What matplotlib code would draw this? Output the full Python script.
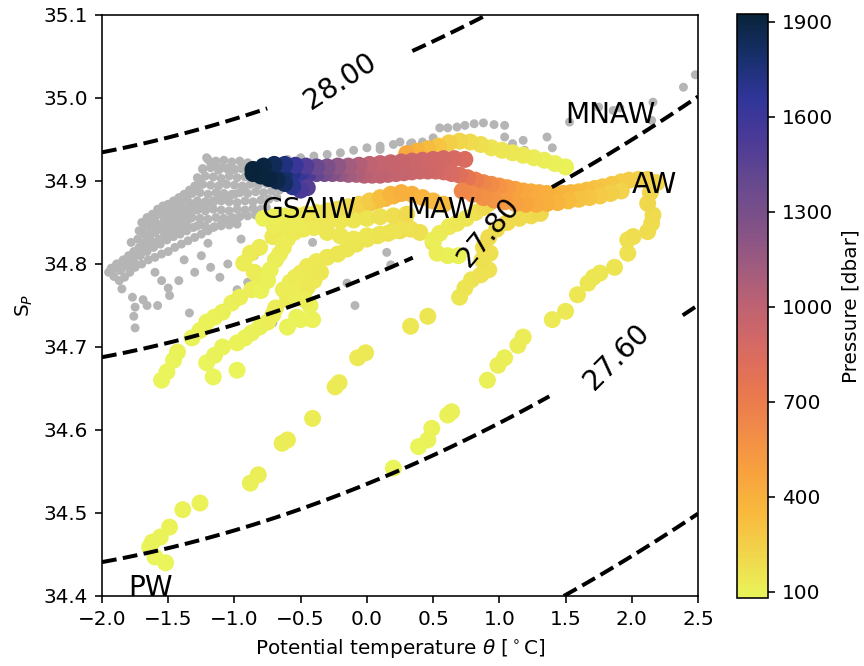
import numpy as np
import matplotlib
matplotlib.use("Agg")
import matplotlib.pyplot as plt
from matplotlib.colors import LinearSegmentedColormap

# --- background stations (grey) ------------------------------------------
grey_t1 = [-1.95, -1.91, -1.87, -1.83, -1.79, -1.75, -1.70, -1.65, -1.60, -1.55, -1.50,
           -1.45, -1.40, -1.35, -1.30, -1.25, -1.20, -1.15, -1.10, -1.05, -1.00]
grey_s1 = [34.790, 34.785, 34.780, 34.784, 34.790, 34.796, 34.800, 34.805, 34.808, 34.812, 34.815,
           34.820, 34.824, 34.828, 34.832, 34.836, 34.840, 34.845, 34.848, 34.852, 34.855]
grey_t2 = [-1.88, -1.84, -1.80, -1.76, -1.72, -1.68, -1.64, -1.60, -1.56, -1.52, -1.48, -1.44, -1.40,
           -1.36, -1.32, -1.28, -1.24, -1.20, -1.16, -1.12, -1.08, -1.04, -1.00, -0.96, -0.92]
grey_s2 = [34.800, 34.805, 34.810, 34.815, 34.820, 34.826, 34.832, 34.838, 34.842, 34.846, 34.850, 34.853, 34.857,
           34.860, 34.864, 34.867, 34.870, 34.873, 34.876, 34.878, 34.880, 34.882, 34.884, 34.886, 34.888]
grey_t3 = [-1.72, -1.68, -1.64, -1.60, -1.56, -1.52, -1.48, -1.44, -1.40, -1.36, -1.32,
           -1.29, -1.27, -1.24, -1.21, -1.18, -1.14, -1.10, -1.05, -1.00, -0.95, -0.90]
grey_s3 = [34.840, 34.846, 34.850, 34.855, 34.860, 34.862, 34.866, 34.870, 34.874, 34.880, 34.886,
           34.893, 34.902, 34.915, 34.928, 34.922, 34.918, 34.916, 34.915, 34.914, 34.915, 34.917]
grey_t4 = [-1.93, -1.89, -1.85, -1.81, -1.77, -1.73, -1.69, -1.65, -1.61, -1.57, -1.53, -1.49, -1.45,
           -1.41, -1.37, -1.33]
grey_s4 = [34.795, 34.800, 34.796, 34.802, 34.808, 34.812, 34.818, 34.822, 34.826, 34.830, 34.834, 34.838,
           34.841, 34.846, 34.850, 34.855]
grey_t5 = [-1.20, -1.14, -1.08, -1.02, -0.96, -0.90,
           -1.24, -1.18, -1.12, -1.06, -1.00, -0.94, -0.88, -0.82]
grey_s5 = [34.926, 34.924, 34.925, 34.923, 34.924, 34.922,
           34.914, 34.916, 34.913, 34.915, 34.914, 34.916, 34.915, 34.917]
grey_t6 = [-1.28, -1.22, -1.16, -1.10, -1.04, -0.98, -0.92, -0.86, -0.80,
           -1.30, -1.24, -1.18, -1.12, -1.06, -1.00, -0.94, -0.88, -0.82, -0.76, -0.70]
grey_s6 = [34.904, 34.906, 34.905, 34.903, 34.906, 34.904, 34.905, 34.903, 34.904,
           34.894, 34.896, 34.895, 34.894, 34.896, 34.895, 34.894, 34.896, 34.895, 34.897, 34.899]
grey_t7 = [-1.32, -1.26, -1.20, -1.14, -1.08, -1.02, -0.96, -0.90, -0.84, -0.78, -0.72, -0.66,
           -1.34, -1.28, -1.22, -1.16, -1.10, -1.04, -0.98, -0.92, -0.86, -0.80, -0.74, -0.68]
grey_s7 = [34.885, 34.886, 34.884, 34.886, 34.885, 34.884, 34.886, 34.885, 34.887, 34.886, 34.888, 34.889,
           34.874, 34.876, 34.875, 34.874, 34.876, 34.875, 34.874, 34.876, 34.875, 34.877, 34.878, 34.880]
grey_t8 = [-1.40, -1.34, -1.28, -1.22, -1.16, -1.10, -1.04, -0.98, -0.92, -0.86, -0.80, -0.76,
           -1.50, -1.44, -1.38, -1.32, -1.26, -1.20, -1.14, -1.08, -1.02, -0.96, -0.90, -0.84,
           -1.58, -1.52, -1.46, -1.40, -1.34, -1.28, -1.22, -1.16, -1.10, -1.04, -0.98]
grey_s8 = [34.864, 34.866, 34.865, 34.864, 34.866, 34.865, 34.864, 34.866, 34.865, 34.867, 34.866, 34.868,
           34.853, 34.855, 34.854, 34.856, 34.855, 34.854, 34.856, 34.855, 34.856, 34.857, 34.858, 34.859,
           34.842, 34.844, 34.843, 34.845, 34.844, 34.846, 34.845, 34.844, 34.846, 34.847, 34.848]
grey_t9 = [-0.70, -0.60, -0.50, -0.40, -0.30, -0.20, -0.10, 0.00, 0.10, 0.20, 0.25, 0.33, 0.42, 0.50,
           0.55, 0.61, 0.68, 0.74, 0.81, 0.88, 0.96, 1.04, 0.10, 0.34]
grey_s9 = [34.925, 34.926, 34.928, 34.930, 34.932, 34.934, 34.937, 34.940, 34.942, 34.944, 34.947, 34.945, 34.947, 34.952,
           34.964, 34.964, 34.965, 34.967, 34.969, 34.970, 34.968, 34.967, 34.938, 34.946]
grey_t10 = [1.04, 1.10, 1.18, 1.19, 1.36, 1.40, 1.53, 1.75, 1.86, 1.91, 2.15, 2.16, 2.39, 2.48]
grey_s10 = [34.953, 34.945, 34.949, 34.937, 34.953, 34.940, 34.971, 34.989, 34.985, 34.988, 34.973, 34.995, 35.013, 35.028]
grey_t11 = [-1.77, -1.75, -1.76, -1.75, -1.69, -1.66, -1.58, -1.50, -1.49, -1.34, -1.42, -1.30, -1.18, -1.11,
            -1.05, -0.98, -0.90, -0.71, -0.85, -0.41, -0.15, -0.09, 0.15, 0.18, -1.85, -1.90, -1.60, -1.55,
            -1.38, -1.25, -1.20, -0.95]
grey_s11 = [34.760, 34.748, 34.737, 34.723, 34.757, 34.750, 34.750, 34.771, 34.762, 34.741, 34.780, 34.790, 34.796, 34.784,
            34.800, 34.769, 34.778, 34.729, 34.810, 34.826, 34.777, 34.750, 34.814, 34.799, 34.770, 34.795, 34.790, 34.780,
            34.805, 34.810, 34.825, 34.830]
grey_t12 = [-1.86, -1.81, -1.76, -1.71, -1.66, -1.61, -1.56, -1.51, -1.46, -1.41, -1.36, -1.31, -1.26,
            -1.78, -1.73, -1.68, -1.63, -1.58, -1.53, -1.48, -1.43, -1.38, -1.33, -1.28,
            -1.70, -1.66, -1.62, -1.58, -1.54, -1.50, -1.46, -1.42, -1.38, -1.34]
grey_s12 = [34.792, 34.797, 34.803, 34.810, 34.815, 34.820, 34.824, 34.829, 34.833, 34.836, 34.840, 34.844, 34.848,
            34.826, 34.830, 34.836, 34.842, 34.848, 34.852, 34.858, 34.862, 34.866, 34.870, 34.875,
            34.850, 34.856, 34.860, 34.866, 34.870, 34.872, 34.876, 34.880, 34.884, 34.889]

# --- section profiles: potential temperature, salinity, pressure ----------
t_a = [0.20, 0.39, 0.46, 0.49, 0.61, 0.64, 0.91, 0.99, 1.04, 1.14, 1.18, 1.40, 1.50, 1.59, 1.67, 1.71,
       1.76, 1.87, 1.97, 1.97, 2.01, 2.12, 2.15, 2.16, 2.12, 2.14, 2.19,
       2.12, 2.05, 1.98, 1.92, 1.85, 1.78, 1.72, 1.66, 1.60, 1.54, 1.48, 1.42, 1.36, 1.30, 1.24, 1.18,
       1.12, 1.06, 1.00, 0.94, 0.88, 0.82, 0.76, 0.70, 0.64, 0.58, 0.52, 0.46, 0.40, 0.34, 0.28, 0.22,
       0.16, 0.10, 0.04, -0.02, -0.08, -0.14, -0.20, -0.26, -0.32, -0.38, -0.44, -0.50, -0.56, -0.62,
       -0.68, -0.74, -0.80]
s_a = [34.554, 34.580, 34.588, 34.602, 34.618, 34.622, 34.660, 34.678, 34.687, 34.702, 34.712, 34.733,
       34.743, 34.763, 34.777, 34.784, 34.789, 34.796, 34.813, 34.829, 34.833, 34.839, 34.849, 34.859,
       34.873, 34.886, 34.898,
       34.902, 34.902, 34.901, 34.899, 34.896, 34.893, 34.891, 34.889, 34.887, 34.886, 34.885, 34.884,
       34.885, 34.886, 34.887, 34.888, 34.890, 34.892, 34.894, 34.896, 34.898, 34.901, 34.904, 34.907,
       34.909, 34.911, 34.912, 34.912, 34.912, 34.911, 34.910, 34.909, 34.908, 34.907, 34.907, 34.907,
       34.908, 34.908, 34.909, 34.909, 34.909, 34.909, 34.909, 34.909, 34.910, 34.910, 34.911, 34.911,
       34.912]
p_a = [81, 88, 92, 96, 100, 103, 108, 112, 115, 120, 124, 130, 135, 140, 145, 148, 152, 158, 165, 172,
       176, 182, 188, 195, 205, 215, 225,
       235, 245, 255, 265, 280, 295, 310, 325, 340, 355, 370, 385, 400, 415, 430, 450, 480, 520, 560,
       600, 650, 700, 760, 820, 860, 880, 900, 915, 930, 945, 960, 970, 980, 990, 1000, 1030, 1070,
       1120, 1180, 1250, 1330, 1420, 1520, 1620, 1710, 1790, 1850, 1890, 1925]

t_b = [-1.52, -1.60, -1.64, -1.62, -1.56, -1.49, -1.39, -1.26, -0.88, -0.82, -0.64, -0.60, -0.41,
       -0.24, -0.21, -0.07, -0.01, 0.33, 0.46, 0.70, 0.74, 0.79, 0.86, 0.92, 0.87, 0.93, 0.88, 0.92,
       0.98, 1.06, 1.15, 1.24, 1.31, 1.30, 1.27]
s_b = [34.440, 34.447, 34.459, 34.465, 34.471, 34.483, 34.504, 34.512, 34.536, 34.546, 34.584, 34.588,
       34.614, 34.652, 34.657, 34.687, 34.693, 34.725, 34.737, 34.760, 34.771, 34.781, 34.787, 34.793,
       34.805, 34.813, 34.820, 34.832, 34.842, 34.850, 34.855, 34.858, 34.861, 34.868, 34.874]
p_b = [81, 84, 87, 90, 93, 96, 99, 102, 106, 110, 114, 118, 122, 126, 130, 134, 138, 142, 146, 150,
       154, 158, 162, 166, 170, 174, 178, 182, 186, 190, 195, 200, 205, 210, 215]

t_c = [-0.45, -0.50, -0.56, -0.62, -0.68, -0.74, -0.80, -0.86]
s_c = [34.892, 34.889, 34.893, 34.897, 34.900, 34.903, 34.906, 34.909]
p_c = [1480, 1540, 1700, 1820, 1880, 1905, 1915, 1925]

t_d = [1.50, 1.42, 1.34, 1.26, 1.18, 1.10, 1.02, 0.94, 0.86, 0.78, 0.70, 0.62, 0.54, 0.46, 0.38, 0.30]
s_d = [34.917, 34.921, 34.925, 34.928, 34.931, 34.934, 34.937, 34.940, 34.944, 34.947, 34.948, 34.946,
       34.942, 34.939, 34.936, 34.933]
p_d = [100, 108, 116, 124, 132, 140, 150, 160, 175, 195, 220, 250, 290, 340, 390, 440]

t_m = [0.74, 0.66, 0.58, 0.50, 0.42, 0.34, 0.26, 0.18, 0.10, 0.02, -0.06, -0.14, -0.22, -0.30, -0.38,
       -0.46, -0.54, -0.62, -0.70, -0.78, -0.86]
s_m = [34.926, 34.927, 34.927, 34.926, 34.925, 34.924, 34.923, 34.922, 34.921, 34.920, 34.919, 34.918,
       34.918, 34.917, 34.917, 34.918, 34.919, 34.920, 34.920, 34.918, 34.914]
p_m = [850, 870, 890, 905, 920, 935, 950, 965, 980, 1000, 1060, 1120, 1200, 1290, 1390, 1500, 1620,
       1740, 1840, 1900, 1925]

t_e = [-1.55, -1.51, -1.46, -1.43, -1.32, -1.26, -1.21, -1.15, -1.09, -1.02, -0.96, -0.87, -0.81, -0.85,
       -0.93, -0.88, -0.81, -0.71, -0.64, -0.58, -0.52, -0.46, -0.40, -0.34, -0.28, -0.22, -0.16, -0.10,
       -0.04, 0.02, 0.08, 0.14, 0.20, 0.26]
s_e = [34.660, 34.670, 34.684, 34.694, 34.711, 34.720, 34.730, 34.736, 34.742, 34.753, 34.760, 34.769,
       34.778, 34.790, 34.801, 34.813, 34.820, 34.833, 34.842, 34.848, 34.852, 34.856, 34.858, 34.860,
       34.862, 34.864, 34.866, 34.868, 34.870, 34.873, 34.876, 34.879, 34.882, 34.885]
p_e = [81, 84, 87, 90, 93, 96, 99, 102, 105, 108, 111, 114, 117, 120, 123, 126, 130, 135, 140, 146, 152,
       160, 170, 182, 196, 212, 230, 250, 275, 300, 330, 360, 390, 420]

t_f = [-0.98, -1.16, -1.21, -1.15, -1.09, -0.98, -0.92, -0.87, -0.81, -0.75, -0.71, -0.69, -0.60, -0.53,
       -0.45, -0.40, -0.35]
s_f = [34.672, 34.664, 34.681, 34.690, 34.700, 34.705, 34.711, 34.717, 34.724, 34.730, 34.739, 34.747,
       34.757, 34.765, 34.772, 34.780, 34.790]
p_f = [85, 81, 85, 89, 93, 97, 101, 105, 109, 113, 117, 121, 125, 129, 133, 137, 141]

t_g = [-0.60, -0.53, -0.50, -0.41, -0.43, -0.47, -0.55, -0.63, -0.58, -0.54, -0.50, -0.45, -0.38, -0.30,
       -0.22, -0.15, -0.08, 0.00, 0.08, 0.16, 0.25, 0.33]
s_g = [34.724, 34.736, 34.733, 34.733, 34.750, 34.757, 34.762, 34.769, 34.778, 34.784, 34.789, 34.797,
       34.803, 34.808, 34.812, 34.818, 34.824, 34.830, 34.834, 34.837, 34.840, 34.842]
p_g = [90, 94, 98, 102, 106, 110, 114, 118, 122, 126, 130, 134, 138, 142, 146, 150, 155, 160, 165, 170,
       175, 180]

t_h = [-0.78, -0.70, -0.62, -0.54, -0.46, -0.38, -0.30, -0.22, -0.14, -0.06, 0.02, 0.10, 0.18, 0.26,
       0.34, 0.42, 0.50, 0.58]
s_h = [34.855, 34.857, 34.858, 34.859, 34.860, 34.862, 34.864, 34.866, 34.869, 34.872, 34.876, 34.880,
       34.884, 34.886, 34.884, 34.880, 34.876, 34.872]
p_h = [100, 110, 120, 130, 140, 150, 165, 180, 200, 230, 270, 320, 370, 410, 400, 380, 360, 340]

t_i = [0.69, 0.61, 0.53, 0.50, 0.55, 0.62, 0.68, 0.75, 0.82, 0.88, 0.92]
s_i = [34.810, 34.810, 34.813, 34.829, 34.837, 34.845, 34.849, 34.855, 34.862, 34.868, 34.873]
p_i = [100, 105, 110, 115, 120, 130, 140, 150, 170, 190, 210]

t_j = [-0.80, -0.75, -0.73, -0.69, -0.66, -0.63, -0.60, -0.55, -0.48, -0.40, -0.30, -0.20, -0.10, 0.00,
       0.10, 0.20, 0.30, 0.40, 0.50]
s_j = [34.768, 34.780, 34.793, 34.805, 34.812, 34.820, 34.830, 34.838, 34.842, 34.844, 34.838, 34.834,
       34.830, 34.834, 34.836, 34.840, 34.846, 34.838, 34.826]
p_j = [100, 104, 108, 112, 116, 120, 124, 128, 132, 136, 140, 144, 148, 152, 156, 160, 164, 168, 172]

t_k = [1.92, 1.84, 1.76, 1.68, 1.60, 1.52, 1.44, 1.36, 1.28, 1.20, 1.12, 1.04, 0.96, 0.88, 0.80, 0.72]
s_k = [34.888, 34.885, 34.882, 34.880, 34.878, 34.876, 34.874, 34.873, 34.872, 34.872, 34.873, 34.875,
       34.877, 34.880, 34.884, 34.888]
p_k = [230, 250, 270, 290, 310, 340, 370, 400, 430, 460, 490, 520, 550, 580, 610, 640]

t_n = [-0.70, -0.60, -0.50, -0.40, -0.30, -0.20, -0.10, 0.00, 0.10, 0.20, 0.30]
s_n = [34.846, 34.848, 34.848, 34.850, 34.851, 34.852, 34.853, 34.855, 34.857, 34.858, 34.860]
p_n = [120, 125, 130, 135, 140, 145, 150, 160, 170, 180, 190]

water_masses = ["GSAIW", "MAW", "MNAW", "AW", "PW"]
wm_t = [-0.8, 0.3, 1.5, 2.0, -1.8]
wm_s = [34.855, 34.855, 34.97, 34.885, 34.40]

sigma_levels = [27.4, 27.6, 27.8, 28.0]
label_spots = [(1.89, 34.687), (0.91, 34.838), (-0.2, 35.02)]
label_angles = {"27.60": 45, "27.80": 50, "28.00": 33}
pressure_ticks = [100, 400, 700, 1000, 1300, 1600, 1900]


def sigma0(sa, ct):
    # surface density anomaly (EOS-80 at p=0, salinity rescaled)
    s = sa * 35.0 / 35.16504
    t = ct
    rho_w = (999.842594 + 6.793952e-2 * t - 9.095290e-3 * t**2 + 1.001685e-4 * t**3
             - 1.120083e-6 * t**4 + 6.536332e-9 * t**5)
    a = 8.24493e-1 - 4.0899e-3 * t + 7.6438e-5 * t**2 - 8.2467e-7 * t**3 + 5.3875e-9 * t**4
    b = -5.72466e-3 + 1.0227e-4 * t - 1.6546e-6 * t**2
    c = 4.8314e-4
    return rho_w + a * s + b * s**1.5 + c * s**2 - 1000.0


thermal_r = LinearSegmentedColormap.from_list("thermal_r", [
    "#e9f55a", "#f1d64c", "#f8ba3d", "#f8a23e", "#f18b48", "#e8764f", "#d76a63", "#be6272",
    "#9e5b7f", "#7f5188", "#66488f", "#4b3a97", "#30359a", "#17306b", "#08233a"])

grey_t = (grey_t1 + grey_t2 + grey_t3 + grey_t4 + grey_t5 + grey_t6 + grey_t7 + grey_t8
          + grey_t9 + grey_t10 + grey_t11 + grey_t12)
grey_s = (grey_s1 + grey_s2 + grey_s3 + grey_s4 + grey_s5 + grey_s6 + grey_s7 + grey_s8
          + grey_s9 + grey_s10 + grey_s11 + grey_s12)

temp = t_e + t_f + t_g + t_j + t_n + t_h + t_i + t_b + t_d + t_a + t_k + t_m + t_c
sal = s_e + s_f + s_g + s_j + s_n + s_h + s_i + s_b + s_d + s_a + s_k + s_m + s_c
pres = p_e + p_f + p_g + p_j + p_n + p_h + p_i + p_b + p_d + p_a + p_k + p_m + p_c

fig = plt.figure(figsize=(6.0, 4.625), dpi=144)
ax = fig.add_axes([102 / 864, 70 / 666, 596 / 864, 581 / 666])
cax = fig.add_axes([737 / 864, 68 / 666, 31 / 864, 584 / 666])

ax.set_xlim(-2.0, 2.5)
ax.set_ylim(34.4, 35.1)

tt, ss = np.meshgrid(np.linspace(-2.0, 2.5, 200), np.linspace(34.4, 35.1, 200))
cs = ax.contour(tt, ss, sigma0(ss, tt), levels=sigma_levels, colors="k",
                linestyles="--", linewidths=2)
labels = ax.clabel(cs, fmt="%.2f", fontsize=14, inline=True, inline_spacing=38,
                   manual=label_spots)
for lab in labels:
    lab.set_rotation(label_angles.get(lab.get_text(), 0))
    if lab.get_text() == "27.80":
        lab.set_position((0.92, 34.838))

ax.scatter(grey_t, grey_s, s=20, color="0.71", edgecolors="none")
sc = ax.scatter(temp, sal, c=pres, s=72, cmap=thermal_r, edgecolors="none")

for name, x, y in zip(water_masses, wm_t, wm_s):
    ax.text(x, y, name, fontsize=14)

ax.set_xlim(-2.0, 2.5)
ax.set_ylim(34.4, 35.1)
ax.set_xlabel(r"Potential temperature $\theta$ [$^\circ$C]")
ax.set_ylabel(r"S$_P$")

cb = fig.colorbar(sc, cax=cax, ticks=pressure_ticks)
cb.set_label("Pressure [dbar]")

fig.savefig("out.png", dpi=144)
